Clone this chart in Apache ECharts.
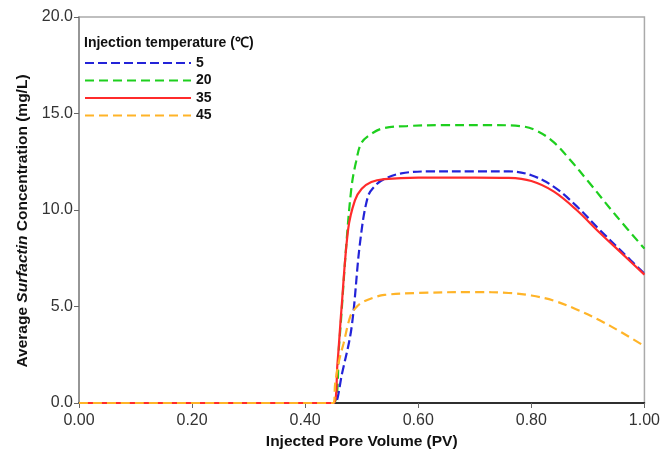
<!DOCTYPE html>
<html>
<head>
<meta charset="utf-8">
<script src="https://cdn.jsdelivr.net/npm/echarts@6/dist/echarts.min.js"></script>
<style>html,body{margin:0;padding:0;background:#fff}#c{width:663px;height:459px}</style>
</head>
<body>
<div id="c"></div>
<script>
// Data
var xTicks = [0, 0.2, 0.4, 0.6, 0.8, 1.0];
var yTicks = [0, 5, 10, 15, 20];
var seriesNames = ['5', '20', '35', '45'];

var x5  = [0, 0.45, 0.453, 0.465, 0.482, 0.497, 0.511, 0.525, 0.54, 0.57, 0.62, 0.70, 0.76, 0.80, 0.84, 0.88, 0.92, 0.96, 1.0];
var y5  = [0, 0, 0, 1.5, 3.9, 8.3, 10.7, 11.3, 11.6, 11.9, 12.0, 12.0, 12.0, 11.8, 11.2, 10.2, 9.0, 7.85, 6.7];

var x20 = [0, 0.45, 0.46, 0.473, 0.482, 0.49, 0.50, 0.52, 0.54, 0.58, 0.65, 0.72, 0.78, 0.81, 0.84, 0.87, 0.90, 0.95, 1.0];
var y20 = [0, 0, 3.0, 8.3, 11.2, 12.5, 13.5, 14.0, 14.25, 14.35, 14.4, 14.4, 14.35, 14.1, 13.5, 12.55, 11.5, 9.7, 8.0];

var x35 = [0, 0.45, 0.457, 0.464, 0.476, 0.488, 0.50, 0.517, 0.54, 0.60, 0.70, 0.76, 0.80, 0.84, 0.88, 0.92, 0.96, 1.0];
var y35 = [0, 0, 2.0, 4.8, 9.0, 10.5, 11.1, 11.45, 11.6, 11.68, 11.68, 11.66, 11.5, 10.95, 10.0, 8.85, 7.75, 6.65];

var x45 = [0, 0.45, 0.453, 0.46, 0.468, 0.48, 0.49, 0.50, 0.52, 0.54, 0.60, 0.70, 0.76, 0.80, 0.84, 0.88, 0.92, 0.96, 1.0];
var y45 = [0, 0, 1.0, 2.2, 3.1, 4.5, 4.95, 5.2, 5.45, 5.6, 5.7, 5.75, 5.7, 5.57, 5.3, 4.85, 4.3, 3.65, 2.95];

function pairs(xs, ys) { return xs.map(function (x, i) { return [x, ys[i]]; }); }

var colors = ['#2323d8', '#1ecf1e', '#ff2b2b', '#ffb428'];
var dashes = [[9, 4], [9, 5], 'solid', [9, 5]];
var datas = [pairs(x5, y5), pairs(x20, y20), pairs(x35, y35), pairs(x45, y45)];
var zs = [3, 2, 4, 5];

var font = 'Liberation Sans, Arial, sans-serif';
var chart = echarts.init(document.getElementById('c'), null, {renderer: 'canvas'});
chart.setOption({
  animation: false,
  backgroundColor: '#fff',
  title: {
    text: 'Injection temperature (℃)',
    left: 79, top: 31,
    textStyle: {fontFamily: font, fontSize: 14, fontWeight: 'bold', color: '#111'}
  },
  legend: {
    orient: 'vertical', left: 84, top: 56, padding: 0,
    itemWidth: 106, itemHeight: 14, itemGap: 3.5,
    data: seriesNames,
    itemStyle: {opacity: 0},
    textStyle: {fontFamily: font, fontSize: 14, fontWeight: 'bold', color: '#111'}
  },
  grid: {left: 79, right: 15, top: 17, bottom: 56, show: true, borderColor: '#aaa', borderWidth: 1.5},
  xAxis: {
    type: 'value', min: 0, max: 1, interval: 0.2,
    name: 'Injected Pore Volume (PV)', nameLocation: 'middle', nameGap: 31,
    nameTextStyle: {fontFamily: font, fontSize: 15.5, fontWeight: 'bold', color: '#111'},
    axisLine: {lineStyle: {color: '#000', width: 1.5}},
    axisTick: {show: true, length: 5, lineStyle: {color: '#666'}},
    axisLabel: {fontFamily: font, fontSize: 16, color: '#333', margin: 10,
      formatter: function (v) { return v.toFixed(2); }},
    splitLine: {show: false}
  },
  yAxis: {
    type: 'value', min: 0, max: 20, interval: 5,
    name: '{n|Average }{i|Surfactin}{n| Concentration (mg/L)}',
    nameLocation: 'middle', nameGap: 47, nameRotate: 90,
    nameTextStyle: {
      padding: [0, 22, 0, 0],
      rich: {
        n: {fontFamily: font, fontSize: 15.5, fontWeight: 'bold', color: '#111'},
        i: {fontFamily: font, fontSize: 15.5, fontWeight: 'bold', fontStyle: 'italic', color: '#111'}
      }
    },
    axisLine: {show: true, lineStyle: {color: '#888', width: 1.5}},
    axisTick: {show: true, length: 5, lineStyle: {color: '#666'}},
    axisLabel: {fontFamily: font, fontSize: 16, color: '#333', margin: 6,
      formatter: function (v) { return v.toFixed(1); }},
    splitLine: {show: false}
  },
  series: seriesNames.map(function (n, i) {
    return {
      name: n, type: 'line', data: datas[i], symbol: 'none',
      smooth: 0.35,
      color: colors[i],
      lineStyle: {color: colors[i], width: 2.2, type: dashes[i]},
      z: zs[i]
    };
  })
});
</script>
</body>
</html>
